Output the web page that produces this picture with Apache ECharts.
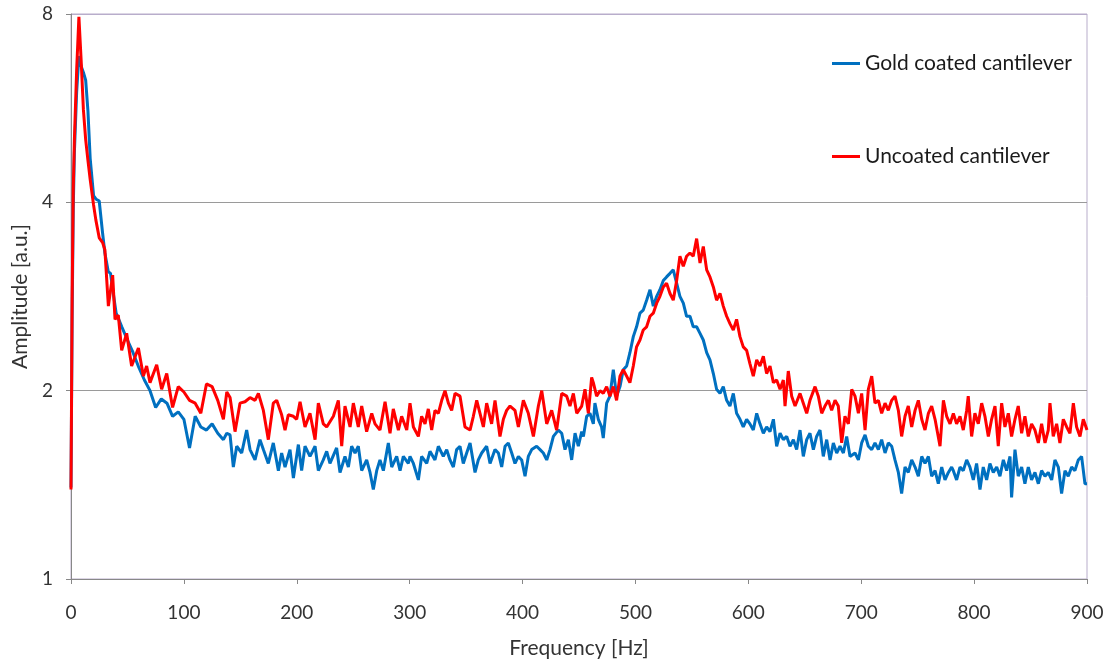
<!DOCTYPE html>
<html>
<head>
<meta charset="utf-8">
<script src="https://cdn.jsdelivr.net/npm/echarts@6/dist/echarts.min.js"></script>
<style>html,body{margin:0;padding:0;background:#fff;}#chart{width:1107px;height:661px;}</style>
</head>
<body>
<div id="chart"></div>
<script>
// Gold coated cantilever (blue)
const goldFreq = [0,1,2,3,5,7,9,11,13,15,17,20,22,25,28,30,33,35,37,40,
45,50,55,60,65,70,75,80,85,90,95,100,105,110,115,120,125,130,135,138,
140.9,143.8,146.8,151.2,155.6,158.6,163.0,167.4,170.4,174.8,179.2,183.7,186.6,189.6,194.0,197.0,201.4,204.3,207.3,211.7,
216.2,219.1,223.5,226.5,229.4,235.3,238.3,242.7,245.7,248.6,251.6,254.5,257.5,261.9,264.9,267.8,270.8,273.7,276.7,281.1,
284.1,288.5,291.5,294.4,298.8,300.3,303.3,307.7,310.6,315.1,318.0,322.4,325.4,329.8,332.8,335.7,338.7,341.6,344.6,347.5,
350.5,353.5,357.9,360.8,363.8,368.2,371.2,375.6,378.6,381.5,384.5,387.4,390.4,393.3,396.3,399.2,402.2,405.1,408.1,412.5,
415.5,418.4,421.4,424.3,427.3,431.7,434.7,437.6,440.6,443.5,446.5,449.4,452.4,453.9,456.8,459.7,462.7,464.1,467.1,470.0,
471.5,474.5,477.4,480.4,483.3,486.3,489.2,492.2,495.1,498.1,501.0,504.0,506.9,509.9,512.9,515.8,518.8,521.7,524.7,527.6,
530.6,533.5,536.5,539.4,542.4,545.3,548.3,551.2,554.2,557.2,560.1,563.1,566.0,569.0,571.9,574.9,577.8,580.8,583.7,586.7,
589.6,592.6,595.5,598.5,601.4,604.4,607.4,610.3,613.3,616.2,619.2,622.2,625.1,628.1,631.0,634.0,636.9,639.9,642.8,645.8,
648.7,651.7,654.6,657.6,660.5,663.5,666.4,669.4,672.4,675.3,678.3,681.2,684.2,687.1,690.1,694.5,697.5,700.4,703.4,706.3,
709.3,712.2,715.2,718.1,721.1,724.0,727.0,729.9,732.9,735.8,738.8,741.7,744.7,747.7,750.6,753.6,756.5,759.5,762.4,765.4,
768.3,771.3,774.2,777.2,780.1,781.6,784.5,787.5,790.4,793.4,796.3,799.3,802.2,805.2,808.1,811.1,814.0,817.0,820.0,822.9,
825.9,828.8,831.8,833.2,836.2,839.1,842.1,845.0,848.0,850.9,853.9,856.9,859.8,862.8,865.7,868.7,871.6,874.6,877.5,880.5,
883.4,886.4,889.3,892.3,895.2,898.2,900];
const goldAmp = [1.40,2.6,3.9,4.8,6.0,6.85,6.6,6.45,6.27,5.6,4.7,4.1,4.05,4.02,3.57,3.32,3.1,3.08,2.9,2.66,
2.53,2.41,2.30,2.18,2.08,2.00,1.88,1.94,1.91,1.82,1.85,1.80,1.62,1.82,1.75,1.73,1.77,1.71,1.67,1.71,
1.70,1.51,1.63,1.59,1.73,1.61,1.55,1.67,1.61,1.53,1.65,1.49,1.59,1.51,1.61,1.45,1.64,1.49,1.63,1.57,
1.63,1.49,1.55,1.60,1.53,1.62,1.48,1.57,1.51,1.63,1.59,1.63,1.49,1.55,1.48,1.39,1.49,1.55,1.49,1.65,
1.51,1.57,1.49,1.57,1.53,1.57,1.53,1.44,1.57,1.53,1.60,1.55,1.63,1.57,1.61,1.55,1.51,1.61,1.63,1.53,
1.59,1.65,1.48,1.55,1.59,1.63,1.53,1.61,1.59,1.51,1.63,1.65,1.59,1.53,1.57,1.55,1.46,1.57,1.61,1.63,
1.61,1.59,1.55,1.61,1.69,1.73,1.71,1.61,1.67,1.55,1.71,1.63,1.72,1.69,1.82,1.84,1.77,1.91,1.80,1.75,
1.68,1.91,1.96,2.16,1.96,2.03,2.16,2.19,2.30,2.44,2.53,2.66,2.69,2.79,2.90,2.73,2.83,2.90,3.00,3.04,
3.08,3.12,2.97,2.83,2.76,2.63,2.63,2.53,2.53,2.47,2.41,2.30,2.24,2.13,2.01,1.98,2.03,1.93,1.89,1.98,
1.84,1.80,1.75,1.80,1.77,1.73,1.84,1.77,1.71,1.75,1.72,1.80,1.63,1.71,1.67,1.69,1.63,1.67,1.61,1.73,
1.57,1.67,1.71,1.61,1.69,1.73,1.57,1.67,1.55,1.65,1.59,1.63,1.59,1.69,1.57,1.59,1.55,1.65,1.70,1.63,
1.61,1.65,1.61,1.67,1.59,1.65,1.63,1.55,1.48,1.37,1.51,1.48,1.55,1.51,1.46,1.57,1.53,1.57,1.46,1.49,
1.42,1.51,1.44,1.48,1.51,1.49,1.44,1.51,1.49,1.55,1.51,1.44,1.53,1.39,1.51,1.44,1.53,1.48,1.51,1.46,
1.55,1.49,1.57,1.35,1.61,1.46,1.51,1.42,1.51,1.44,1.48,1.42,1.49,1.46,1.48,1.44,1.55,1.51,1.37,1.49,
1.46,1.51,1.49,1.55,1.57,1.42,1.42];

// Uncoated cantilever (red)
const uncoatedFreq = [0,1,2,3,5,7,9,11,13,15,17,20,22,25,28,30,33.1,36.9,39.0,41.9,
44.9,49.3,53.7,59.7,64.1,67.0,70.0,75.9,80.3,84.8,90,95,100,105,110,115,120,125,130,135,
138,140.9,145.3,149.7,154.1,158.6,163.0,166.0,170.4,174.8,179.2,182.2,186.6,189.6,192.5,197.0,199.9,202.9,207.3,211.7,
216.2,219.1,223.5,226.5,232.4,236.8,239.8,242.7,247.2,250.1,254.5,257.5,261.9,266.4,269.3,273.7,278.2,282.6,285.5,290.0,
292.9,297.4,300.3,303.3,307.7,310.6,313.6,316.5,319.5,322.4,325.4,328.4,331.3,334.3,337.2,340.2,344.6,349.0,353.5,356.4,
359.4,362.3,365.3,368.2,372.6,375.6,380.0,383.0,385.9,388.9,393.3,396.3,400.7,405.1,409.6,414.0,417.0,421.4,425.8,430.2,
434.7,439.1,442.0,445.0,448.0,452.4,455.3,458.3,461.2,462.7,465.6,468.6,471.5,474.5,477.4,480.4,483.3,486.3,489.2,492.2,
495.1,498.1,501.0,504.0,506.9,509.9,512.9,515.8,518.8,521.7,524.7,527.6,530.6,533.5,536.5,539.4,542.4,545.3,548.3,551.2,
554.2,557.2,560.1,563.1,566.0,569.0,571.9,574.9,577.8,580.8,583.7,586.7,589.6,592.6,595.5,598.5,601.4,604.4,607.4,610.3,
613.3,616.2,619.2,622.2,625.1,628.1,631.0,632.5,635.4,638.4,641.4,645.8,648.7,651.7,654.6,659.1,662.0,665.0,667.9,670.9,
673.8,676.8,679.7,682.7,685.6,688.6,691.6,694.5,697.5,700.4,703.4,706.3,709.3,712.2,715.2,718.1,721.1,724.0,727.0,729.9,
732.9,735.8,738.8,741.7,744.7,747.7,750.6,753.6,756.5,759.5,762.4,765.4,769.8,772.8,775.7,778.7,781.6,784.5,787.5,790.4,
793.4,794.8,797.8,800.7,803.7,806.7,809.6,812.6,815.5,818.5,821.4,824.4,827.3,830.3,833.2,836.2,839.1,842.1,845.0,848.0,
850.9,853.9,856.9,859.8,862.8,865.7,867.2,870.1,873.1,876.0,879.0,882.0,884.9,887.9,890.8,893.8,896.7,900];
const uncoatedAmp = [1.39,2.8,4.19,5.04,6.5,7.92,6.74,5.62,5.04,4.67,4.35,3.96,3.75,3.51,3.45,3.36,2.73,3.06,2.60,2.64,
2.32,2.47,2.19,2.34,2.11,2.19,2.06,2.20,2.01,2.13,1.88,2.03,1.99,1.93,1.91,1.84,2.05,2.03,1.93,1.80,
1.99,1.95,1.72,1.91,1.92,1.95,1.93,1.98,1.86,1.67,1.91,1.93,1.83,1.73,1.83,1.82,1.80,1.92,1.75,1.84,
1.67,1.91,1.77,1.75,1.82,1.93,1.63,1.89,1.75,1.91,1.75,1.89,1.72,1.84,1.77,1.73,1.92,1.71,1.87,1.73,
1.82,1.73,1.91,1.75,1.69,1.82,1.77,1.87,1.73,1.86,1.84,1.93,2.00,1.91,1.86,1.98,1.96,1.75,1.73,1.82,
1.93,1.84,1.75,1.91,1.77,1.93,1.69,1.80,1.86,1.89,1.86,1.75,1.93,1.84,1.69,1.89,2.00,1.77,1.86,1.73,
1.98,1.96,1.89,1.98,1.84,1.89,2.01,1.84,2.10,2.06,1.96,2.00,1.98,2.03,1.96,2.03,1.93,2.11,2.16,2.11,
2.06,2.19,2.35,2.41,2.50,2.53,2.63,2.66,2.76,2.83,2.93,2.97,2.86,2.79,3.00,3.28,3.16,3.28,3.32,3.28,
3.50,3.20,3.40,3.12,3.04,2.93,2.79,2.86,2.73,2.63,2.56,2.50,2.60,2.44,2.35,2.32,2.21,2.11,2.24,2.19,
2.27,2.13,2.19,2.06,2.08,2.01,2.08,1.89,2.15,1.96,1.89,1.98,1.91,1.84,1.93,2.03,1.96,1.84,1.89,1.93,
1.86,1.93,1.89,1.65,1.82,1.77,2.01,1.96,1.84,1.98,1.73,2.01,2.11,1.91,1.93,1.84,1.91,1.86,1.93,1.96,
1.86,1.69,1.82,1.89,1.75,1.86,1.93,1.80,1.73,1.84,1.89,1.80,1.63,1.93,1.82,1.77,1.84,1.77,1.82,1.73,
1.86,1.96,1.69,1.84,1.77,1.91,1.82,1.69,1.80,1.89,1.63,1.91,1.75,1.84,1.69,1.80,1.89,1.71,1.82,1.69,
1.77,1.73,1.65,1.77,1.65,1.73,1.91,1.69,1.77,1.65,1.80,1.75,1.71,1.91,1.75,1.69,1.80,1.73];

const xTicks = [0, 100, 200, 300, 400, 500, 600, 700, 800, 900];
const yTicks = [1, 2, 4, 8];
const seriesNames = ['Gold coated cantilever', 'Uncoated cantilever'];

const toPairs = (fs, vs) => fs.map((f, i) => [f, vs[i]]);

const FONT = 'Lato, "Open Sans", sans-serif';
const chart = echarts.init(document.getElementById('chart'), null, {renderer: 'canvas'});
chart.setOption({
  animation: false,
  backgroundColor: '#ffffff',
  grid: {left: 71, right: 20, top: 14, bottom: 82, show: true, borderColor: '#B8ADCB', borderWidth: 1,
         containLabel: false, outerBoundsMode: 'none'},
  legend: [
    {data: [seriesNames[0]], left: 832, top: 53, padding: 0, icon: 'rect', itemWidth: 28, itemHeight: 3, itemGap: 4,
     textStyle: {fontFamily: FONT, fontSize: 21, color: '#1a1a1a'}},
    {data: [seriesNames[1]], left: 832, top: 146, padding: 0, icon: 'rect', itemWidth: 28, itemHeight: 3, itemGap: 4,
     textStyle: {fontFamily: FONT, fontSize: 21, color: '#1a1a1a'}}
  ],
  xAxis: {
    type: 'value', min: xTicks[0], max: xTicks[xTicks.length - 1], interval: 100,
    name: 'Frequency [Hz]', nameLocation: 'middle', nameGap: 59,
    nameTextStyle: {fontFamily: FONT, fontSize: 21, color: '#333'},
    axisLine: {show: true, lineStyle: {color: '#888', width: 1}},
    axisTick: {show: true, length: 5, lineStyle: {color: '#888'}},
    axisLabel: {fontFamily: FONT, fontSize: 19, color: '#333', margin: 24},
    splitLine: {show: false}
  },
  yAxis: {
    type: 'log', logBase: 2, min: 1, max: 8,
    name: 'Amplitude [a.u.]', nameLocation: 'middle', nameGap: 40,
    nameTextStyle: {fontFamily: FONT, fontSize: 21, color: '#333'},
    axisLine: {show: true, lineStyle: {color: '#888', width: 1}},
    axisTick: {show: true, length: 5, lineStyle: {color: '#888'}},
    axisLabel: {fontFamily: FONT, fontSize: 19, color: '#333', margin: 18,
      formatter: (v) => yTicks.includes(Math.round(v)) ? String(Math.round(v)) : ''},
    splitLine: {show: true, lineStyle: {color: ['#9a9a9a', '#9a9a9a', '#9a9a9a', '#B8ADCB'], width: 1}}
  },
  series: [
    {name: seriesNames[0], type: 'line', data: toPairs(goldFreq, goldAmp), showSymbol: false, symbol: 'none',
     lineStyle: {color: '#0070C0', width: 3}, itemStyle: {color: '#0070C0'}, z: 2},
    {name: seriesNames[1], type: 'line', data: toPairs(uncoatedFreq, uncoatedAmp), showSymbol: false, symbol: 'none',
     lineStyle: {color: '#FF0000', width: 3}, itemStyle: {color: '#FF0000'}, z: 3}
  ]
});
</script>
</body>
</html>
